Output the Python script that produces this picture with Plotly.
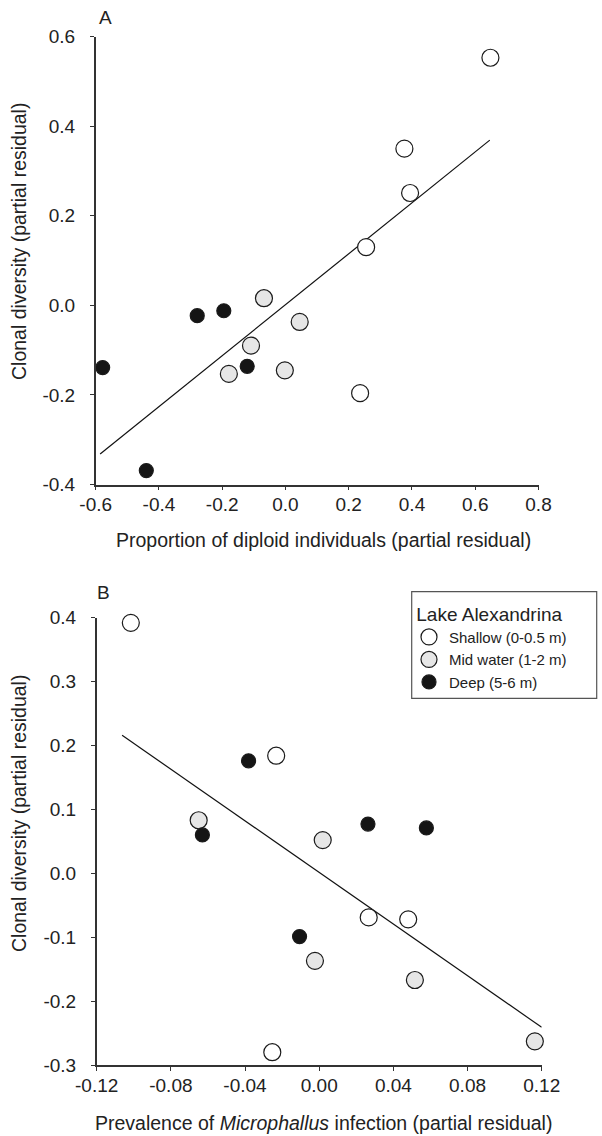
import plotly.graph_objects as go

# ---------------- Data: panel A ----------------
a_shallow_x = [0.648, 0.376, 0.394, 0.255, 0.236]
a_shallow_y = [0.553, 0.350, 0.251, 0.130, -0.196]
a_mid_x = [-0.068, 0.045, -0.109, -0.179, -0.002]
a_mid_y = [0.016, -0.037, -0.090, -0.153, -0.145]
a_deep_x = [-0.279, -0.195, -0.121, -0.578, -0.440]
a_deep_y = [-0.023, -0.012, -0.136, -0.139, -0.369]
a_fit_x = [-0.586, 0.646]
a_fit_y = [-0.332, 0.369]

# ---------------- Data: panel B ----------------
b_shallow_x = [-0.1016, -0.0232, 0.0267, 0.0480, -0.0253]
b_shallow_y = [0.392, 0.184, -0.069, -0.072, -0.280]
b_mid_x = [-0.0650, 0.0019, -0.0023, 0.0516, 0.1163]
b_mid_y = [0.083, 0.052, -0.137, -0.167, -0.263]
b_deep_x = [-0.0381, -0.0630, 0.0263, 0.0578, -0.0106]
b_deep_y = [0.176, 0.060, 0.077, 0.071, -0.099]
b_fit_x = [-0.1063, 0.1200]
b_fit_y = [0.216, -0.241]

# ---------------- Tick labels ----------------
a_xticks = [-0.6, -0.4, -0.2, 0.0, 0.2, 0.4, 0.6, 0.8]
a_xtext = ["-0.6", "-0.4", "-0.2", "0.0", "0.2", "0.4", "0.6", "0.8"]
a_yticks = [-0.4, -0.2, 0.0, 0.2, 0.4, 0.6]
a_ytext = ["-0.4", "-0.2", "0.0", "0.2", "0.4", "0.6"]
b_xticks = [-0.12, -0.08, -0.04, 0.0, 0.04, 0.08, 0.12]
b_xtext = ["-0.12", "-0.08", "-0.04", "0.00", "0.04", "0.08", "0.12"]
b_yticks = [-0.3, -0.2, -0.1, 0.0, 0.1, 0.2, 0.3, 0.4]
b_ytext = ["-0.3", "-0.2", "-0.1", "0.0", "0.1", "0.2", "0.3", "0.4"]

groups = ["Shallow (0-0.5 m)", "Mid water (1-2 m)", "Deep (5-6 m)"]
fills = ["#ffffff", "#e6e6e6", "#151515"]
sizes = [17, 17, 14]

W, H = 602, 1136

FONT = "Liberation Sans, Arial, Helvetica, sans-serif"
TXT = "#222222"

fig = go.Figure()

# Panel A
fig.add_trace(go.Scatter(x=a_fit_x, y=a_fit_y, mode="lines",
                         line=dict(color="#111111", width=1.2),
                         showlegend=False, xaxis="x", yaxis="y", cliponaxis=False))
for (xs, ys), name, fc, sz in zip([(a_shallow_x, a_shallow_y), (a_mid_x, a_mid_y), (a_deep_x, a_deep_y)],
                                   groups, fills, sizes):
    fig.add_trace(go.Scatter(x=xs, y=ys, mode="markers", name=name, showlegend=False,
                             marker=dict(size=sz, color=fc, line=dict(color="#1a1a1a", width=1.2)),
                             xaxis="x", yaxis="y", cliponaxis=False))

# Panel B
fig.add_trace(go.Scatter(x=b_fit_x, y=b_fit_y, mode="lines",
                         line=dict(color="#111111", width=1.2),
                         showlegend=False, xaxis="x2", yaxis="y2", cliponaxis=False))
for (xs, ys), name, fc, sz in zip([(b_shallow_x, b_shallow_y), (b_mid_x, b_mid_y), (b_deep_x, b_deep_y)],
                                   groups, fills, sizes):
    fig.add_trace(go.Scatter(x=xs, y=ys, mode="markers", name=name, showlegend=True,
                             marker=dict(size=sz, color=fc, line=dict(color="#1a1a1a", width=1.2)),
                             xaxis="x2", yaxis="y2", cliponaxis=False))


def px(x):
    return x / W


def py(y):
    return 1 - y / H


axis_common = dict(showline=True, linecolor="#333333", linewidth=1.5, ticks="outside",
                   ticklen=4, tickwidth=1.2, tickcolor="#333333", showgrid=False,
                   zeroline=False, automargin=False,
                   tickfont=dict(family=FONT, size=19, color=TXT))

fig.update_layout(
    width=W, height=H,
    margin=dict(l=0, r=0, t=0, b=0),
    paper_bgcolor="white", plot_bgcolor="white",
    font=dict(family=FONT, color=TXT),
    xaxis=dict(domain=[px(95.7), px(538.5)], range=[-0.6, 0.8], anchor="y",
               tickvals=a_xticks, ticktext=a_xtext, ticklabelstandoff=-2, **axis_common),
    yaxis=dict(domain=[py(484.5), py(36.7)], range=[-0.4, 0.6], anchor="x",
               tickvals=a_yticks, ticktext=a_ytext, ticklabelstandoff=11, **axis_common),
    xaxis2=dict(domain=[px(96.7), px(541.7)], range=[-0.12, 0.12], anchor="y2",
                tickvals=b_xticks, ticktext=b_xtext, ticklabelstandoff=-2, **axis_common),
    yaxis2=dict(domain=[py(1065), py(617.7)], range=[-0.3, 0.4], anchor="x2",
                tickvals=b_yticks, ticktext=b_ytext, ticklabelstandoff=11, **axis_common),
    legend=dict(x=px(409), y=py(596), xanchor="left", yanchor="top",
                borderwidth=0, bgcolor="rgba(0,0,0,0)",
                font=dict(family=FONT, size=15, color=TXT),
                title=dict(text="\u00a0Lake Alexandrina", font=dict(family=FONT, size=19, color=TXT)),
                itemsizing="trace", tracegroupgap=0),
    showlegend=True,
    shapes=[dict(type="rect", xref="paper", yref="paper",
                 x0=px(411.7), x1=px(596.7), y0=py(698.3), y1=py(591.7),
                 line=dict(color="#555555", width=1.2), layer="below")],
)


def label(text, x, y, angle=0, size=19.5):
    return dict(text=text, x=px(x), y=py(y), xref="paper", yref="paper",
                xanchor="center", yanchor="middle", showarrow=False, textangle=angle,
                font=dict(family=FONT, size=size, color=TXT))


ann = [
    label("A", 105, 17, size=19),
    label("B", 103, 592, size=19),
    label("Proportion of diploid individuals (partial residual)", 323, 540),
    label("Prevalence of <i>Microphallus</i> infection (partial residual)", 323, 1123),
    label("Clonal diversity (partial residual)", 19, 242, angle=-90),
    label("Clonal diversity (partial residual)", 19, 814, angle=-90),
]
fig.update_layout(annotations=ann)

# remove the default 8px page margin so the figure sits at the window's top-left corner
fig.write_html("out.html", config={"displayModeBar": False},
               post_script="document.body.style.margin='0px';")
